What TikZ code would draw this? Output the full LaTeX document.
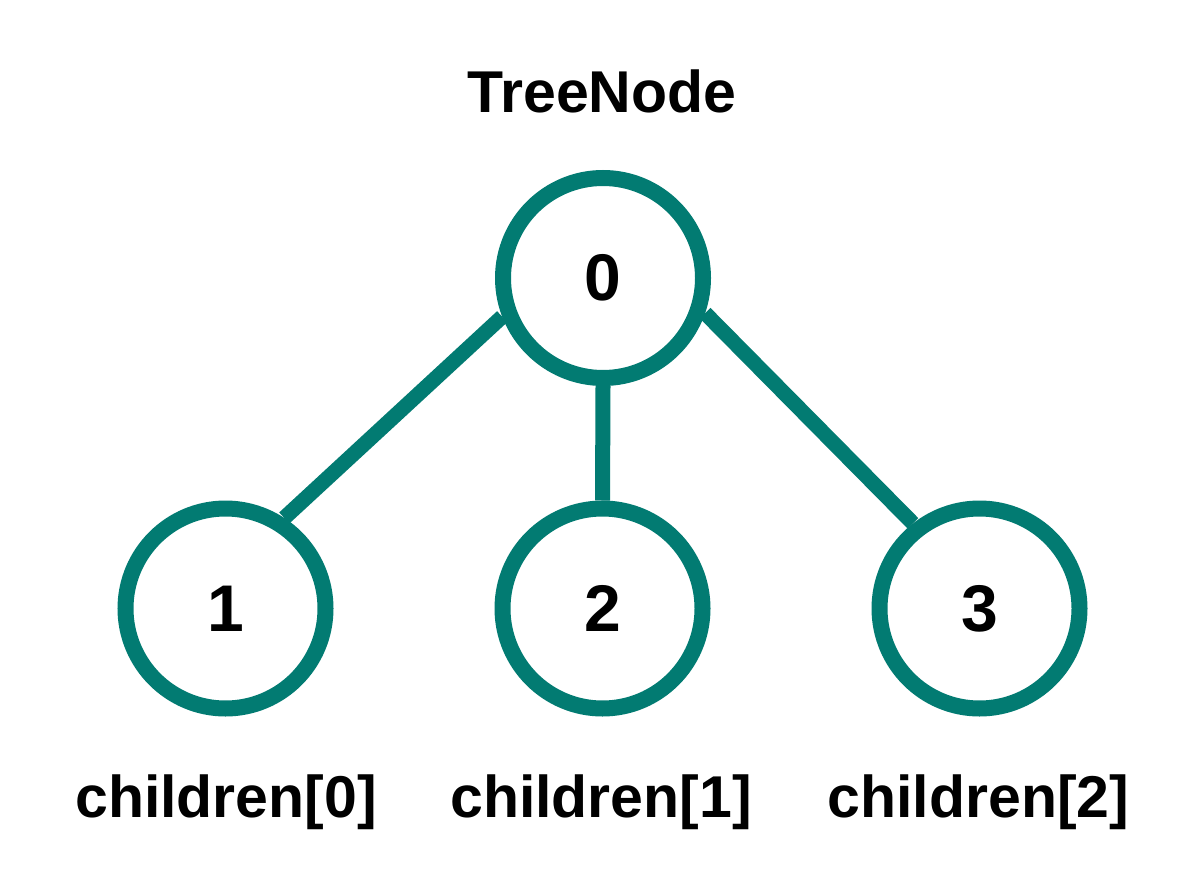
\documentclass[tikz,border=0pt]{standalone}
\usepackage{fontspec}
\setmainfont{Liberation Sans}
\definecolor{teal1}{RGB}{2,123,114}
\begin{document}
\begin{tikzpicture}[x=1pt,y=-1pt,
  tnode/.style={circle,draw=teal1,line width=16pt,minimum size=200pt,inner sep=0pt,
    font=\fontsize{66}{70}\selectfont\bfseries},
  edge/.style={draw=teal1,line width=15pt},
  lbl/.style={anchor=base,inner sep=0pt,font=\fontsize{59}{70}\selectfont\bfseries}]
\useasboundingbox (0,0) rectangle (1204,888);
\fill[white] (0,0) rectangle (1204,888);
\node[lbl] (title) at (602,113) {TreeNode};
\node[tnode] (n0) at (603,278) {0};
\node[tnode] (n1) at (225.5,608.5) {1};
\node[tnode] (n2) at (602.5,608.5) {2};
\node[tnode] (n3) at (979.5,608.5) {3};
\node[lbl] (l1) at (226,817) {children[0]};
\node[lbl] (l2) at (601,817) {children[1]};
\node[lbl] (l3) at (978.5,817) {children[2]};
\draw[edge] (n0.201) -- (n1.57);
\draw[edge] (n0.south) -- (n2.north);
\draw[edge] (n0.341) -- (n3.128);
\end{tikzpicture}
\end{document}
